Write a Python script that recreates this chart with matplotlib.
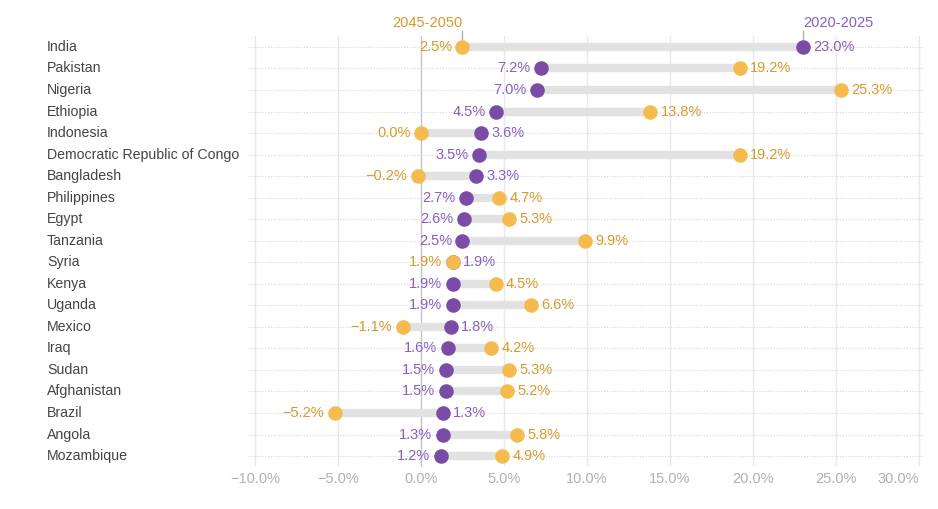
import numpy as np
import matplotlib.pyplot as plt
import matplotlib.transforms as mtransforms

countries = ["India", "Pakistan", "Nigeria", "Ethiopia", "Indonesia",
             "Democratic Republic of Congo", "Bangladesh", "Philippines", "Egypt",
             "Tanzania", "Syria", "Kenya", "Uganda", "Mexico", "Iraq", "Sudan",
             "Afghanistan", "Brazil", "Angola", "Mozambique"]
# share of world population growth, 2020-2025 (purple) and 2045-2050 (orange)
growth_2020 = [23.0, 7.2, 7.0, 4.5, 3.6, 3.5, 3.3, 2.7, 2.6, 2.5,
               1.9, 1.9, 1.9, 1.8, 1.6, 1.5, 1.5, 1.3, 1.3, 1.2]
growth_2045 = [2.5, 19.2, 25.3, 13.8, 0.0, 19.2, -0.2, 4.7, 5.3, 9.9,
               1.9, 4.5, 6.6, -1.1, 4.2, 5.3, 5.2, -5.2, 5.8, 4.9]
xticks = [-10, -5, 0, 5, 10, 15, 20, 25, 30]

PURPLE = "#7a4ca8"
ORANGE = "#f6bb4e"
PURPLE_TXT = "#8a5ec2"
ORANGE_TXT = "#d59b2c"

plt.rcParams['font.family'] = ['Liberation Sans', 'DejaVu Sans']

fig = plt.figure(figsize=(9.38, 5.09), dpi=100)
ax = fig.add_axes([248 / 938, 1 - 466.8 / 509, 676 / 938, 430.6 / 509])

n = len(countries)
y = np.arange(n)

# grid
for t in xticks:
    ax.axvline(t, color="#c4c4c4" if t == 0 else "#e9e9e9", lw=1, zorder=0)
for yi in y:
    ax.axhline(yi, color="#d8d8d8", lw=0.8, ls=(0, (1, 1.5)), zorder=0)

def fmt(v):
    s = f"{abs(v):.1f}%"
    return ("\u2212" + s) if v < 0 else s

row_tf = mtransforms.blended_transform_factory(fig.transFigure, ax.transData)
for i in range(n):
    a, b = growth_2020[i], growth_2045[i]
    ax.plot([a, b], [i, i], color="#e2e2e2", lw=6, solid_capstyle="butt", zorder=1)
    ax.scatter([a], [i], s=110, color=PURPLE, zorder=3, linewidths=0)
    ax.scatter([b], [i], s=110, color=ORANGE, zorder=4, linewidths=0)
    if b <= a:
        left, lc, right, rc = b, ORANGE_TXT, a, PURPLE_TXT
    else:
        left, lc, right, rc = a, PURPLE_TXT, b, ORANGE_TXT
    ax.annotate(fmt(left), (left, i), xytext=(-7.5, 0), textcoords="offset points",
                ha="right", va="center", color=lc, fontsize=10.5)
    ax.annotate(fmt(right), (right, i), xytext=(7.5, 0), textcoords="offset points",
                ha="left", va="center", color=rc, fontsize=10.5)
    # country label
    ax.text(47 / 938, i, countries[i], transform=row_tf,
            ha="left", va="center", fontsize=10.2, color="#444444")

# series headers on the first row
ax.plot([growth_2045[0]] * 2, [-0.35, -0.72], color="#b0b0b0", lw=1, clip_on=False)
ax.plot([growth_2020[0]] * 2, [-0.35, -0.72], color="#b0b0b0", lw=1, clip_on=False)
ax.text(growth_2045[0], -0.8, "2045-2050", ha="right", va="bottom", fontsize=10.5, color=ORANGE_TXT)
ax.text(growth_2020[0], -0.8, "2020-2025", ha="left", va="bottom", fontsize=10.5, color=PURPLE_TXT)

ax.set_xlim(-10.42, 30.3)
ax.set_ylim(n - 0.5, -0.5)
ax.set_xticks(xticks)
labels = ax.set_xticklabels([fmt(t) for t in xticks], color="#b0b0b0", fontsize=10.5)
labels[-1].set_ha("right")
ax.tick_params(axis="x", length=0, pad=4)
ax.set_yticks([])
for s in ax.spines.values():
    s.set_visible(False)

fig.savefig("out.png", dpi=100)
